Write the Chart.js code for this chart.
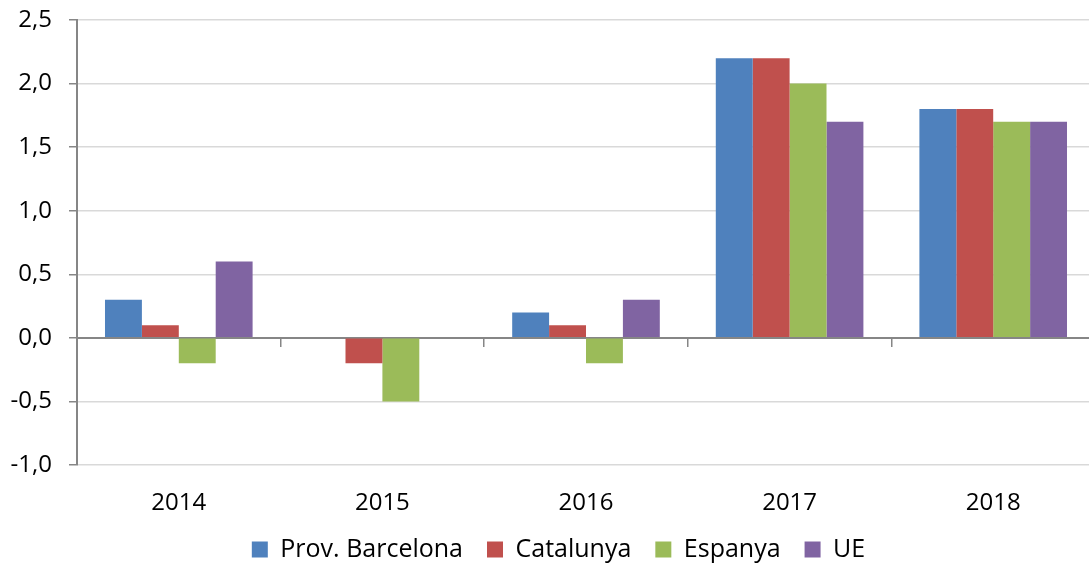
<!DOCTYPE html>
<html>
<head>
<meta charset="utf-8">
<script src="https://cdn.jsdelivr.net/npm/chart.js"></script>
<style>
  html, body { margin: 0; padding: 0; background: #fff; overflow: hidden; }
  #wrap { width: 1095px; height: 572px; }
</style>
</head>
<body>
<div id="wrap"><canvas id="myChart"></canvas></div>
<script>
const ctx = document.getElementById('myChart');

const years = ['2014', '2015', '2016', '2017', '2018'];
const barcelona = [0.3, 0, 0.2, 2.2, 1.8];
const catalunya = [0.1, -0.2, 0.1, 2.2, 1.8];
const espanya = [-0.2, -0.5, -0.2, 2.0, 1.7];
const ue = [0.6, 0, 0.3, 1.7, 1.7];
const yTicks = [-1.0, -0.5, 0.0, 0.5, 1.0, 1.5, 2.0, 2.5];

const axisGrey = '#868686';
Chart.defaults.font.family = '"Open Sans", sans-serif';
Chart.defaults.color = '#000';

// legenda iets naar rechts, zoals in het origineel
const legendShift = {
  id: 'legendShift',
  afterLayout(chart) {
    chart.legend.left += 11;
    chart.legend.right += 11;
  }
};

new Chart(ctx, {
  type: 'bar',
  data: {
    labels: years,
    datasets: [
      { label: 'Prov. Barcelona', data: barcelona, backgroundColor: '#4F81BD' },
      { label: 'Catalunya', data: catalunya, backgroundColor: '#C0504D' },
      { label: 'Espanya', data: espanya, backgroundColor: '#9BBB59' },
      { label: 'UE', data: ue, backgroundColor: '#8064A2' }
    ]
  },
  options: {
    responsive: true,
    maintainAspectRatio: false,
    animation: false,
    categoryPercentage: 0.725,
    barPercentage: 1,
    plugins: {
      tooltip: { enabled: false },
      legend: {
        position: 'bottom',
        labels: {
          font: { size: 25 },
          boxWidth: 16,
          boxHeight: 16,
          padding: 24
        }
      }
    },
    scales: {
      x: {
        grid: { display: false, tickLength: 24 },
        border: { display: false },
        ticks: { font: { size: 24 }, padding: 0 },
        afterFit: axis => { axis.height = 48; } // legenda wat dichterbij
      },
      x2: { // as op nul met streepjes tussen de jaren
        type: 'category',
        labels: years,
        position: { y: 0 },
        offset: true,
        grid: { offset: true, drawOnChartArea: false, tickLength: 8, color: axisGrey, lineWidth: 1.5 },
        border: { color: axisGrey, width: 2 },
        ticks: { display: false }
      },
      y: {
        min: -1,
        max: 2.5,
        afterBuildTicks: axis => { axis.ticks = yTicks.map(v => ({ value: v })); },
        afterFit: axis => { axis.paddingTop = 20; axis.width = 77; },
        grid: {
          color: '#d9d9d9',
          lineWidth: 1.5,
          tickLength: 8,
          tickColor: axisGrey
        },
        border: { color: axisGrey, width: 2 },
        ticks: {
          font: { size: 24 },
          padding: 17,
          callback: v => v.toFixed(1).replace('.', ',')
        }
      }
    }
  },
  plugins: [legendShift]
});
</script>
</body>
</html>
